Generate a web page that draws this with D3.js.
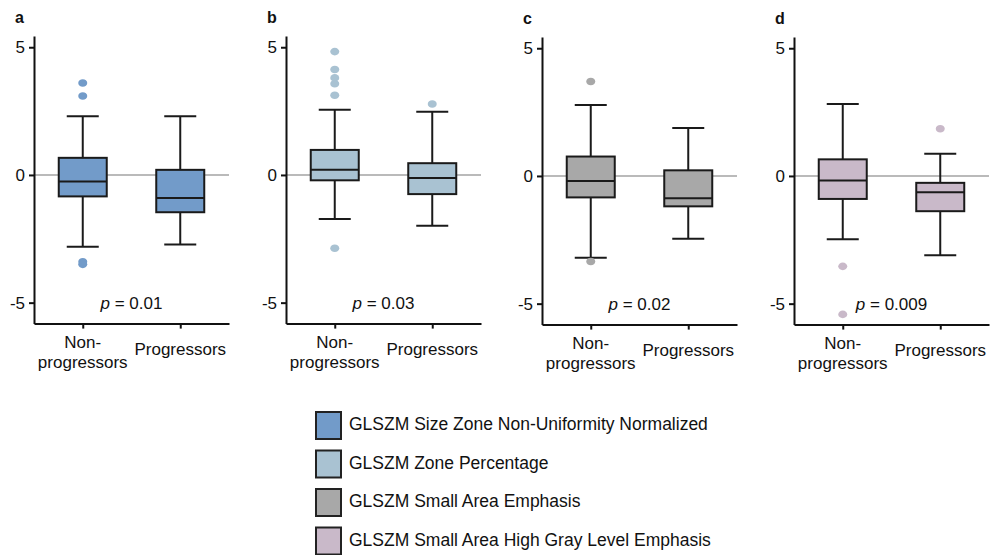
<!DOCTYPE html>
<html>
<head>
<meta charset="utf-8">
<script src="https://cdn.jsdelivr.net/npm/d3@7"></script>
<style>
  body { margin: 0; background: #fff; }
  svg { font-family: "Liberation Sans", Arial, sans-serif; }
</style>
</head>
<body>
<svg id="chart"></svg>
<script>
document.addEventListener("DOMContentLoaded", function() {
  const width = 992;
  const height = 555;

  // data
  const categories = ["Non-progressors", "Progressors"];
  const panelLetters = ["a", "b", "c", "d"];
  const pLabels = ["0.01", "0.03", "0.02", "0.009"];
  const fillColors = ["#729bc9", "#a9c2d2", "#a8a8a8", "#c9b9c9"];
  const legendLabels = [
    "GLSZM Size Zone Non-Uniformity Normalized",
    "GLSZM Zone Percentage",
    "GLSZM Small Area Emphasis",
    "GLSZM Small Area High Gray Level Emphasis"
  ];
  const yTicks = [-5, 0, 5];

  // [lower whisker, Q1, median, Q3, upper whisker] per panel, per category
  const boxStats = [
    [[-2.81, -0.84, -0.26, 0.67, 2.30], [-2.72, -1.46, -0.90, 0.20, 2.30]],
    [[-1.72, -0.21, 0.20, 0.98, 2.55], [-1.99, -0.75, -0.12, 0.46, 2.47]],
    [[-3.20, -0.84, -0.20, 0.76, 2.78], [-2.46, -1.19, -0.87, 0.22, 1.88]],
    [[-2.48, -0.90, -0.18, 0.65, 2.82], [-3.10, -1.38, -0.64, -0.27, 0.87]]
  ];
  const outliers = [
    [[3.60, 3.09, -3.40, -3.50], []],
    [[4.83, 4.13, 3.80, 3.57, 3.12, -2.87], [2.78]],
    [[3.70, -3.35], []],
    [[-3.54, -5.42], [1.85]]
  ];

  const panelX = [34, 286, 542, 794];
  const panelDy = [0, 0, 1, 1];
  const panelW = 195;
  const boxW = 48;
  const capW = 32;

  const svg = d3.select("#chart")
    .attr("width", width)
    .attr("height", height);

  panelLetters.forEach((letter, i) => {
    const g = svg.append("g")
      .attr("transform", `translate(${panelX[i]},${panelDy[i]})`);

    const y = d3.scaleLinear().domain([-5.82, 5.44]).range([323.6, 36]);
    const x = d3.scalePoint().domain(categories).range([0, panelW]).padding(0.5);

    // zero reference line
    g.append("line")
      .attr("x1", 0).attr("x2", panelW)
      .attr("y1", y(0)).attr("y2", y(0))
      .attr("stroke", "#a3a3a3")
      .attr("stroke-width", 1.5);

    // y axis
    const yAxis = g.append("g")
      .call(d3.axisLeft(y).tickValues(yTicks).tickFormat(d => String(d))
        .tickSize(5).tickSizeOuter(0).tickPadding(4));
    yAxis.selectAll("path, line").attr("stroke", "#111").attr("stroke-width", 2);
    yAxis.selectAll("text").attr("font-size", 17).attr("fill", "#111")
      .attr("font-family", "Liberation Sans, Arial, sans-serif");

    // x axis
    const xAxis = g.append("g")
      .attr("transform", `translate(0,${y.range()[0]})`)
      .call(d3.axisBottom(x).tickSize(5).tickSizeOuter(0).tickFormat(""));
    xAxis.selectAll("path, line").attr("stroke", "#111").attr("stroke-width", 2);

    const yb = y.range()[0];
    const lab = g.append("g").attr("font-size", 17).attr("fill", "#111")
      .attr("text-anchor", "middle");
    lab.append("text").attr("x", x(categories[0])).attr("y", yb + 24).text("Non-");
    lab.append("text").attr("x", x(categories[0])).attr("y", yb + 44).text("progressors");
    lab.append("text").attr("x", x(categories[1])).attr("y", yb + 31).text("Progressors");

    // boxes
    categories.forEach((cat, j) => {
      const [lo, q1, med, q3, hi] = boxStats[i][j];
      const cx = x(cat);
      const bg = g.append("g").attr("stroke", "#1a1a1a").attr("stroke-width", 2);

      bg.append("line").attr("x1", cx).attr("x2", cx).attr("y1", y(hi)).attr("y2", y(q3));
      bg.append("line").attr("x1", cx).attr("x2", cx).attr("y1", y(q1)).attr("y2", y(lo));
      bg.append("line").attr("x1", cx - capW / 2).attr("x2", cx + capW / 2)
        .attr("y1", y(hi)).attr("y2", y(hi));
      bg.append("line").attr("x1", cx - capW / 2).attr("x2", cx + capW / 2)
        .attr("y1", y(lo)).attr("y2", y(lo));
      bg.append("rect")
        .attr("x", cx - boxW / 2).attr("width", boxW)
        .attr("y", y(q3)).attr("height", y(q1) - y(q3))
        .attr("fill", fillColors[i]);
      bg.append("line").attr("x1", cx - boxW / 2).attr("x2", cx + boxW / 2)
        .attr("y1", y(med)).attr("y2", y(med));

      g.selectAll(null)
        .data(outliers[i][j])
        .enter()
        .append("ellipse")
        .attr("cx", cx)
        .attr("cy", d => y(d))
        .attr("rx", 4.5)
        .attr("ry", 3.8)
        .attr("fill", fillColors[i]);
    });

    // p value
    const pt = g.append("text")
      .attr("x", panelW / 2)
      .attr("y", y(-5) + 6)
      .attr("text-anchor", "middle")
      .attr("font-size", 17)
      .attr("fill", "#111");
    pt.append("tspan").attr("font-style", "italic").text("p");
    pt.append("tspan").text(" = " + pLabels[i]);

    // panel letter
    g.append("text")
      .attr("x", -19)
      .attr("y", 23)
      .attr("font-size", 16)
      .attr("font-weight", "bold")
      .attr("fill", "#111")
      .text(letter);
  });

  // legend
  const legend = svg.append("g").attr("transform", "translate(316,0)");
  legendLabels.forEach((label, i) => {
    const cy = 425.5 + i * 38.5;
    legend.append("rect")
      .attr("x", 0).attr("y", cy - 13.5)
      .attr("width", 25).attr("height", 27)
      .attr("fill", fillColors[i])
      .attr("stroke", "#222")
      .attr("stroke-width", 2);
    legend.append("text")
      .attr("x", 33)
      .attr("y", cy - 1.5)
      .attr("dy", "0.35em")
      .attr("font-size", 17.5)
      .attr("fill", "#111")
      .text(label);
  });
});
</script>
</body>
</html>
